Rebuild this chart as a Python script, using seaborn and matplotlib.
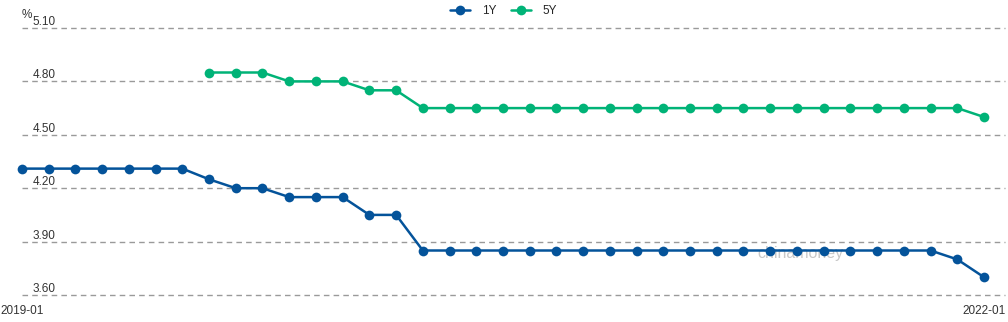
import matplotlib
matplotlib.use("Agg")
import matplotlib.pyplot as plt
import seaborn as sns
import pandas as pd
import numpy as np

months = pd.period_range("2019-01", "2022-01", freq="M").strftime("%Y-%m").tolist()
rate_1y = [4.31, 4.31, 4.31, 4.31, 4.31, 4.31, 4.31, 4.25, 4.20, 4.20, 4.15, 4.15, 4.15,
           4.05, 4.05, 3.85, 3.85, 3.85, 3.85, 3.85, 3.85, 3.85, 3.85, 3.85, 3.85, 3.85,
           3.85, 3.85, 3.85, 3.85, 3.85, 3.85, 3.85, 3.85, 3.85, 3.80, 3.70]
rate_5y = [None, None, None, None, None, None, None, 4.85, 4.85, 4.85, 4.80, 4.80, 4.80,
           4.75, 4.75, 4.65, 4.65, 4.65, 4.65, 4.65, 4.65, 4.65, 4.65, 4.65, 4.65, 4.65,
           4.65, 4.65, 4.65, 4.65, 4.65, 4.65, 4.65, 4.65, 4.65, 4.65, 4.60]
y_ticks = [3.60, 3.90, 4.20, 4.50, 4.80, 5.10]
x_tick_labels = ["2019-01", "2022-01"]

df = pd.DataFrame({"idx": np.arange(len(months)), "month": months,
                   "1Y": rate_1y, "5Y": rate_5y})
long = df.melt(id_vars=["idx", "month"], value_vars=["1Y", "5Y"],
               var_name="series", value_name="rate").dropna()

sns.set_theme(style="white")
plt.rcParams['font.family'] = ['Liberation Sans', 'DejaVu Sans']

fig = plt.figure(figsize=(10.08, 3.22), dpi=100)
ax = fig.add_axes([22/1008, 1 - 295/322, (1005 - 22)/1008, (295 - 28)/322])

palette = {"1Y": "#04539a", "5Y": "#00b377"}
sns.lineplot(data=long, x="idx", y="rate", hue="series", palette=palette,
             marker="o", markersize=7, markeredgewidth=0, linewidth=1.8,
             ax=ax, legend=True)
for ln in ax.get_lines():
    ln.set_clip_on(False)

ax.set_xlim(0, 36 + 21/26.72)
ax.set_ylim(3.60, 5.10)
ax.set_yticks(y_ticks)
ax.set_yticklabels([f"{v:.2f}" for v in y_ticks])
ax.set_xticks([0, 36])
ax.set_xticklabels(x_tick_labels)
ax.set_xlabel("")
ax.set_ylabel("")
for s in ax.spines.values():
    s.set_visible(False)
ax.yaxis.grid(True, color="#9a9a9a", linestyle=(0, (4, 3)), linewidth=1)
ax.xaxis.grid(False)
ax.set_axisbelow(True)
for gl in ax.yaxis.get_gridlines():
    gl.set_clip_on(False)
ax.tick_params(axis="y", length=0, pad=-24, labelsize=8.5, labelcolor="#333333")
ax.tick_params(axis="x", length=0, pad=7, labelsize=8.5, labelcolor="#333333")
for lab in ax.get_yticklabels():
    lab.set_verticalalignment("bottom")

ax.text(0, 1.025, "%", transform=ax.transAxes, fontsize=8.5, color="#333333",
        ha="left", va="bottom")
ax.text(0.792, 0.155, "chinamoney", transform=ax.transAxes, fontsize=11.5,
        color="#c8c8c8", ha="center", va="center", zorder=0)

handles, labels = ax.get_legend_handles_labels()
ax.legend(handles, labels, loc="upper center", bbox_to_anchor=(0.49, 1.125),
          ncol=2, frameon=False, fontsize=8.5, handlelength=1.7,
          columnspacing=1.25, handletextpad=1.0)

fig.savefig("out.png", dpi=100)
